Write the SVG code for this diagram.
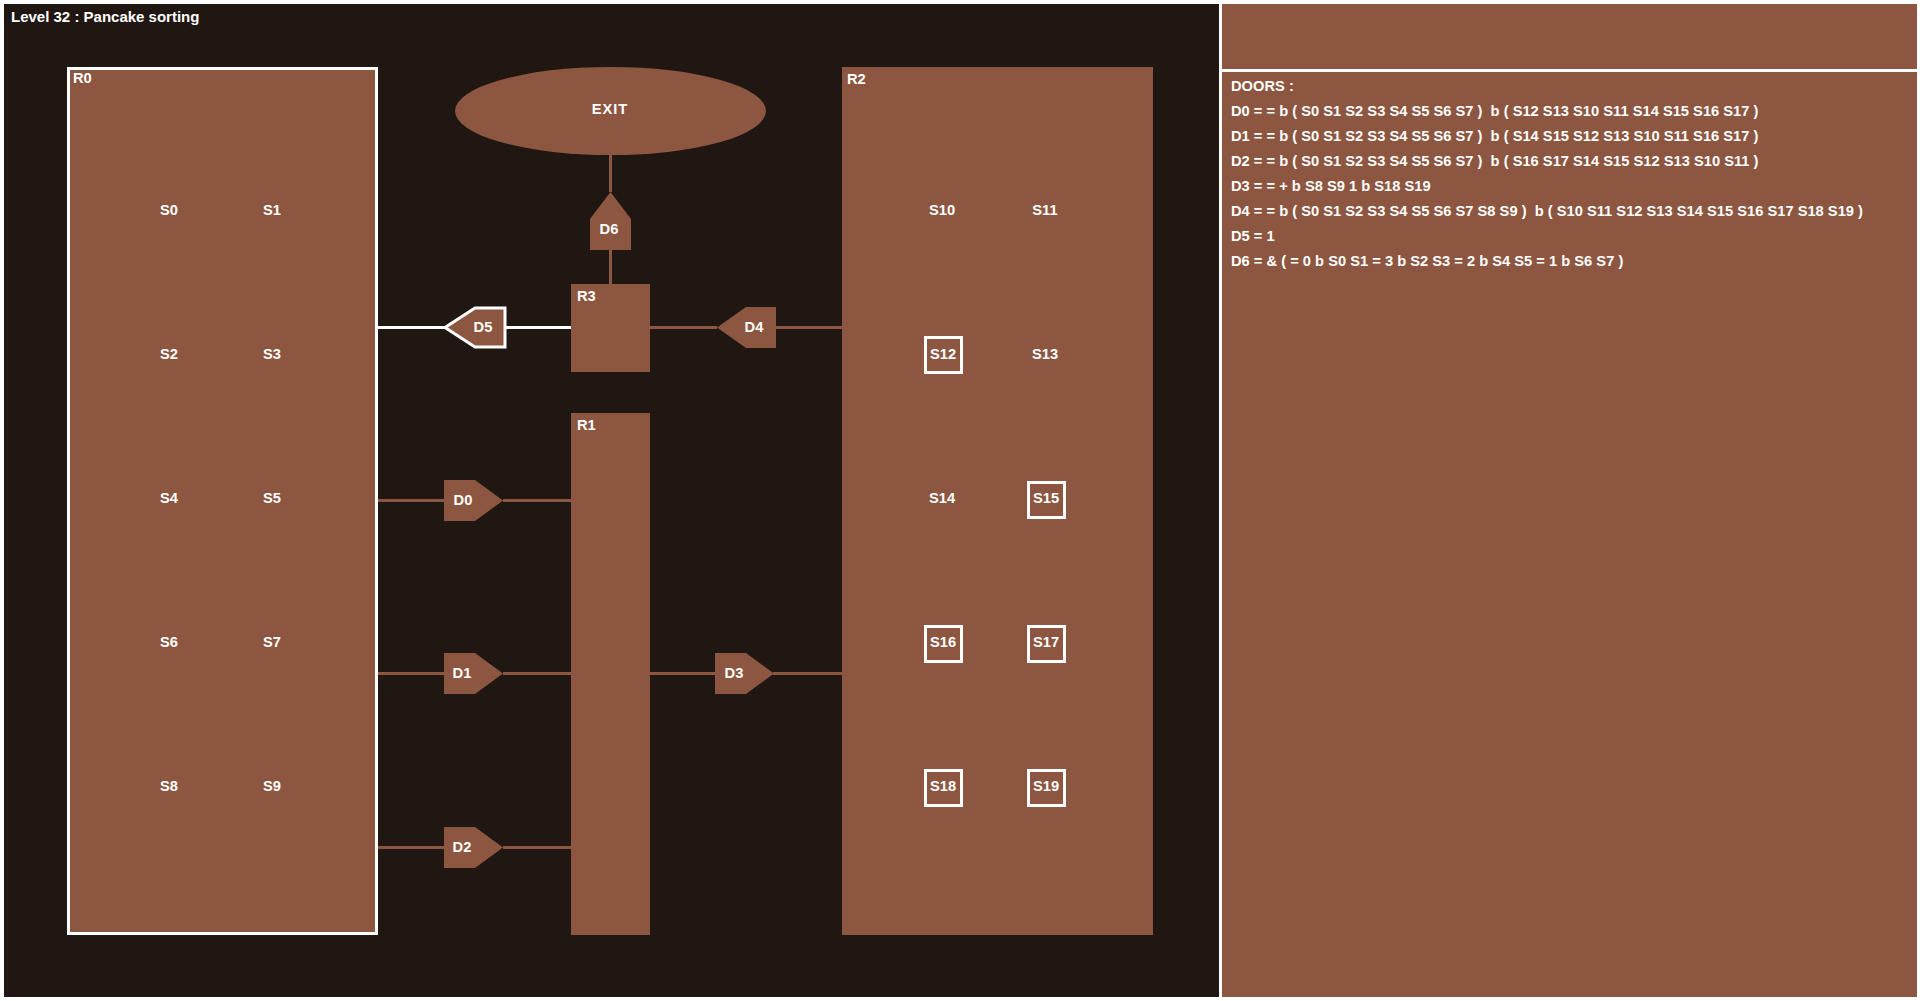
<svg xmlns="http://www.w3.org/2000/svg" width="1920" height="1001" viewBox="0 0 1920 1001">
<style>
.t{fill:#ffffff;font-family:"Liberation Sans",Arial,sans-serif;font-weight:bold;font-size:14.7px}
.c{text-anchor:middle}
.p{white-space:pre}
.room{fill:#8c5640}
.door{fill:#8c5640}
.wl{stroke:#ffffff;stroke-width:3;fill:none}
.bl{stroke:#8c5640;stroke-width:3;fill:none}
.box{fill:none;stroke:#ffffff;stroke-width:3}
</style>
<rect x="0" y="0" width="1920" height="1001" fill="#ffffff"/>
<rect id="main" x="4" y="4" width="1215" height="993" fill="#201713"/>
<rect id="panel-top" x="1222" y="4" width="695" height="65" fill="#8c5640"/>
<rect id="panel-doors" x="1222" y="72" width="695" height="925" fill="#8c5640"/>
<text class="t" x="11" y="22" style="font-size:15px">Level 32 : Pancake sorting</text>

<g id="connectors">
<line class="wl" x1="378" y1="327.5" x2="445" y2="327.5"/>
<line class="wl" x1="505" y1="327.5" x2="571" y2="327.5"/>
<line class="bl" x1="650" y1="327.5" x2="717" y2="327.5"/>
<line class="bl" x1="776" y1="327.5" x2="842" y2="327.5"/>
<line class="bl" x1="378" y1="500.5" x2="444" y2="500.5"/>
<line class="bl" x1="503" y1="500.5" x2="571" y2="500.5"/>
<line class="bl" x1="378" y1="673.5" x2="444" y2="673.5"/>
<line class="bl" x1="503" y1="673.5" x2="571" y2="673.5"/>
<line class="bl" x1="378" y1="847.5" x2="444" y2="847.5"/>
<line class="bl" x1="503" y1="847.5" x2="571" y2="847.5"/>
<line class="bl" x1="650" y1="673.5" x2="715" y2="673.5"/>
<line class="bl" x1="773" y1="673.5" x2="842" y2="673.5"/>
<line class="bl" x1="610.5" y1="155" x2="610.5" y2="192"/>
<line class="bl" x1="610.5" y1="250" x2="610.5" y2="284"/>
</g>

<g id="R0">
<rect class="room" x="68.5" y="68.5" width="308" height="865" stroke="#ffffff" stroke-width="3"/>
<text class="t" x="73" y="83">R0</text>
<text class="t c" x="169" y="215">S0</text><text class="t c" x="272" y="215">S1</text>
<text class="t c" x="169" y="359">S2</text><text class="t c" x="272" y="359">S3</text>
<text class="t c" x="169" y="503">S4</text><text class="t c" x="272" y="503">S5</text>
<text class="t c" x="169" y="647">S6</text><text class="t c" x="272" y="647">S7</text>
<text class="t c" x="169" y="791">S8</text><text class="t c" x="272" y="791">S9</text>
</g>

<g id="R1">
<rect class="room" x="571" y="413" width="79" height="522"/>
<text class="t" x="577" y="430">R1</text>
</g>

<g id="R3">
<rect class="room" x="571" y="284" width="79" height="88"/>
<text class="t" x="577" y="301">R3</text>
</g>

<g id="R2">
<rect class="room" x="842" y="67" width="311" height="868"/>
<text class="t" x="847" y="84">R2</text>
<text class="t c" x="942" y="215">S10</text><text class="t c" x="1045" y="215">S11</text>
<rect class="box" x="925.5" y="337.5" width="36" height="35"/>
<text class="t c" x="943" y="359">S12</text><text class="t c" x="1045" y="359">S13</text>
<text class="t c" x="942" y="503">S14</text>
<rect class="box" x="1028.5" y="482.5" width="36" height="35"/>
<text class="t c" x="1046" y="503">S15</text>
<rect class="box" x="925.5" y="626.5" width="36" height="35"/>
<text class="t c" x="943" y="647">S16</text>
<rect class="box" x="1028.5" y="626.5" width="36" height="35"/>
<text class="t c" x="1046" y="647">S17</text>
<rect class="box" x="925.5" y="770.5" width="36" height="35"/>
<text class="t c" x="943" y="791">S18</text>
<rect class="box" x="1028.5" y="770.5" width="36" height="35"/>
<text class="t c" x="1046" y="791">S19</text>
</g>

<g id="EXIT">
<ellipse class="room" cx="610.5" cy="111" rx="155.5" ry="44"/>
<text class="t c" x="610" y="114" style="letter-spacing:1px">EXIT</text>
</g>

<g id="D0">
<polygon class="door" points="444,480 475,480 503,500.5 475,521 444,521"/>
<text class="t c" x="463" y="505">D0</text>
</g>
<g id="D1">
<polygon class="door" points="444,653 475,653 503,673.5 475,694 444,694"/>
<text class="t c" x="462" y="678">D1</text>
</g>
<g id="D2">
<polygon class="door" points="444,827 475,827 503,847.5 475,868 444,868"/>
<text class="t c" x="462" y="852">D2</text>
</g>
<g id="D3">
<polygon class="door" points="715,653 746,653 774,673.5 746,694 715,694"/>
<text class="t c" x="734" y="678">D3</text>
</g>
<g id="D4">
<polygon class="door" points="717,327.5 746,307 776,307 776,348 746,348"/>
<text class="t c" x="754" y="332">D4</text>
</g>
<g id="D5">
<polygon class="door" points="445,327.5 475,308 505,308 505,347 475,347" stroke="#ffffff" stroke-width="3" stroke-linejoin="miter"/>
<text class="t c" x="483" y="332">D5</text>
</g>
<g id="D6">
<polygon class="door" points="610.5,192 631,219 631,250 590,250 590,219"/>
<text class="t c" x="609" y="234">D6</text>
</g>

<g id="doors-panel">
<text class="t p" x="1231" y="91">DOORS :</text>
<text class="t p" x="1231" y="116">D0 = = b ( S0 S1 S2 S3 S4 S5 S6 S7 )  b ( S12 S13 S10 S11 S14 S15 S16 S17 )</text>
<text class="t p" x="1231" y="141">D1 = = b ( S0 S1 S2 S3 S4 S5 S6 S7 )  b ( S14 S15 S12 S13 S10 S11 S16 S17 )</text>
<text class="t p" x="1231" y="166">D2 = = b ( S0 S1 S2 S3 S4 S5 S6 S7 )  b ( S16 S17 S14 S15 S12 S13 S10 S11 )</text>
<text class="t p" x="1231" y="191">D3 = = + b S8 S9 1 b S18 S19</text>
<text class="t p" x="1231" y="216">D4 = = b ( S0 S1 S2 S3 S4 S5 S6 S7 S8 S9 )  b ( S10 S11 S12 S13 S14 S15 S16 S17 S18 S19 )</text>
<text class="t p" x="1231" y="241">D5 = 1</text>
<text class="t p" x="1231" y="266">D6 = &amp; ( = 0 b S0 S1 = 3 b S2 S3 = 2 b S4 S5 = 1 b S6 S7 )</text>
</g>
</svg>
